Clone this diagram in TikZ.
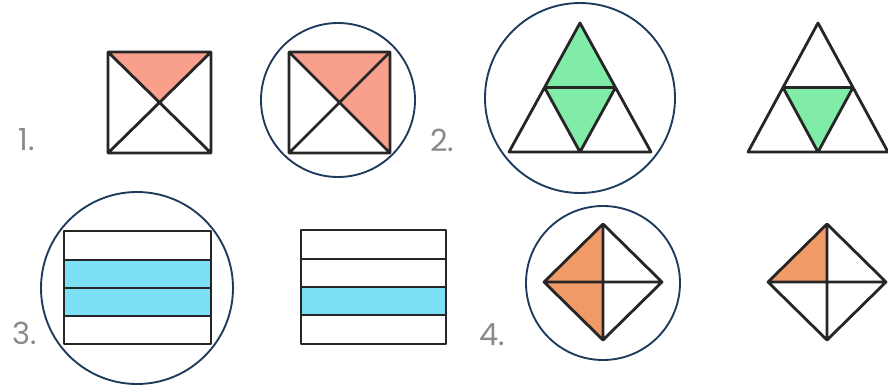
\documentclass[tikz,border=0pt]{standalone}
\usepackage{fontspec}
\setmainfont{Poppins}
\usepackage{tikz}
\definecolor{salmon}{HTML}{F8A08C}
\definecolor{mint}{HTML}{80ECA8}
\definecolor{sky}{HTML}{7CE0F4}
\definecolor{peach}{HTML}{F09A68}
\definecolor{ring}{HTML}{1E3A5C}
\definecolor{numgray}{HTML}{8A8A8A}
\tikzset{fig/.style = {line width=2.4pt, line join=round, draw=black!85},
  ringline/.style = {line width=1.6pt, draw=ring},
  num/.style = {text=numgray, font=\fontsize{26}{26}\selectfont}}

\begin{document}
\begin{tikzpicture}[x=0.03cm, y=-0.03cm]
        \useasboundingbox (0,0) rectangle (888,385);
        % 1. squares with diagonals
        \fill[salmon] (108,52) -- (211,52) -- (159.5,102.5) -- cycle;
        \draw[fig] (108,52) rectangle (211,153) (108,52) -- (211,153) (211,52) -- (108,153);
        \fill[salmon] (289,52) -- (390,52) -- (390,153) -- (339.5,102.5) -- cycle;
        \draw[fig] (289,52) rectangle (390,153) (289,52) -- (390,153) (390,52) -- (289,153);
        \draw[ringline] (338,100) circle (77);
        \node[num] (one) at (27,140) {1.};
        % 2. triangles
        \fill[mint] (580,23) -- (615.5,87.5) -- (580,152) -- (544.5,87.5) -- cycle;
        \draw[fig] (580,23) -- (651,152) -- (509,152) -- cycle
          (544.5,87.5) -- (615.5,87.5) -- (580,152) -- cycle;
        \draw[ringline] (580,98) circle (95);
        \fill[mint] (783,87.5) -- (853,87.5) -- (818,152) -- cycle;
        \draw[fig] (818,23) -- (888,152) -- (748,152) -- cycle
          (783,87.5) -- (853,87.5) -- (818,152) -- cycle;
        \node[num] (two) at (442,140) {2.};
        % 3. striped rectangles
        \fill[sky] (64,260) rectangle (211,316);
        \draw[fig] (64,231) rectangle (211,344)
          (64,260) -- (211,260) (64,288) -- (211,288) (64,316) -- (211,316);
        \draw[ringline] (137,288) circle (96);
        \fill[sky] (301,287) rectangle (446,315);
        \draw[fig] (301,230) rectangle (446,344)
          (301,259) -- (446,259) (301,287) -- (446,287) (301,315) -- (446,315);
        \node[num] (three) at (25,333) {3.};
        % 4. diamonds
        \fill[peach] (603,224) -- (544,282) -- (603,340) -- cycle;
        \draw[fig] (603,224) -- (662,282) -- (603,340) -- (544,282) -- cycle
          (603,224) -- (603,340) (544,282) -- (662,282);
        \draw[ringline] (603,283) circle (77);
        \fill[peach] (827,224) -- (768,282) -- (827,282) -- cycle;
        \draw[fig] (827,224) -- (886,282) -- (827,340) -- (768,282) -- cycle
          (827,224) -- (827,340) (768,282) -- (886,282);
        \node[num] (four) at (492,335) {4.};
      \end{tikzpicture}
\end{document}
